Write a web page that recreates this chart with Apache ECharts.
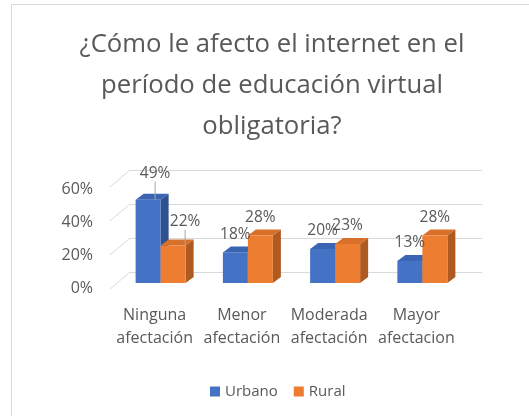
<!DOCTYPE html>
<html><head><meta charset="utf-8">
<script src="https://cdn.jsdelivr.net/npm/echarts@6/dist/echarts.min.js"></script>
<style>html,body{margin:0;padding:0;background:#fff}#c{width:529px;height:416px}</style>
</head><body><div id="c"></div>
<script>
const titleText = '¿Cómo le afecto el internet en el\nperíodo de educación virtual\nobligatoria?';
const categories = ['Ninguna\nafectación', 'Menor\nafectación', 'Moderada\nafectación', 'Mayor\nafectacion'];
const seriesNames = ['Urbano', 'Rural'];
const urbano = [49, 18, 20, 13];
const rural = [22, 28, 23, 28];
const yTicks = [0, 20, 40, 60];

const FONT = '"Open Sans", sans-serif';
const TXT = '#595959';
const GRIDC = '#d9d9d9';
const DX = 8, DY = -6;          // bar depth
const WALL_DX = 20, WALL_DY = -17; // side wall depth
const BAR_W = 25;
const colors = {
  Urbano: { front: '#4472C4', top: '#3b65b2', side: '#2f528f' },
  Rural:  { front: '#ED7D31', top: '#d9702a', side: '#ae5a21' }
};

function faces(name, sign) {
  return function (params, api) {
    const c = api.coord([api.value(0), api.value(1)]);
    const b = api.coord([api.value(0), 0]);
    const xL = sign < 0 ? c[0] - BAR_W : c[0];
    const xR = xL + BAR_W, yT = c[1], yB = b[1];
    const col = colors[name];
    return { type: 'group', children: [
      { type: 'polygon', shape: { points: [[xL, yT], [xL + DX, yT + DY], [xR + DX, yT + DY], [xR, yT]] }, style: { fill: col.top } },
      { type: 'polygon', shape: { points: [[xR, yT], [xR + DX, yT + DY], [xR + DX, yB + DY], [xR, yB]] }, style: { fill: col.side } }
    ]};
  };
}

function labelCfg() {
  return { show: true, position: 'top', distance: 10, formatter: '{c}%', color: TXT, fontSize: 15.5, fontFamily: FONT, offset: [-2, 0] };
}

const chart = echarts.init(document.getElementById('c'), null, { renderer: 'canvas' });
chart.setOption({
  animation: false,
  backgroundColor: '#fff',
  graphic: [{ type: 'rect', shape: { x: 11.5, y: 4.5, width: 700, height: 700 }, style: { fill: 'none', stroke: GRIDC, lineWidth: 1 }, z: -10 }],
  title: {
    text: titleText, left: 272, top: 24, textAlign: 'center', padding: 0,
    textStyle: { fontFamily: FONT, fontSize: 25.7, fontWeight: 'normal', color: TXT, lineHeight: 41 }
  },
  legend: {
    data: seriesNames, left: 205, top: 379, itemWidth: 10, itemHeight: 10, itemGap: 16, icon: 'rect',
    textStyle: { fontFamily: FONT, fontSize: 15, color: TXT }
  },
  grid: [
    { left: 111, right: 69, top: 189, bottom: 128 },   // front plane (labels)
    { left: 117, right: 63, top: 181, bottom: 133 },   // bar plane
    { left: 130, right: 47, top: 170, bottom: 144 }    // back wall
  ],
  xAxis: [
    { type: 'category', gridIndex: 0, data: categories, axisLine: { show: false }, axisTick: { show: false },
      axisLabel: { interval: 0, margin: 16, lineHeight: 23, fontSize: 16, fontFamily: FONT, color: TXT } },
    { type: 'category', gridIndex: 1, data: categories, show: false },
    { type: 'category', gridIndex: 2, data: categories, show: false }
  ],
  yAxis: [
    { type: 'value', gridIndex: 0, min: 0, max: 60, interval: 20, splitLine: { show: false }, axisLine: { show: false }, axisTick: { show: false },
      axisLabel: { formatter: '{value}%', margin: 18, fontSize: 16, fontFamily: FONT, color: TXT } },
    { type: 'value', gridIndex: 1, min: 0, max: 60, interval: 20, show: false, splitLine: { show: false } },
    { type: 'value', gridIndex: 2, min: 0, max: 60, interval: 20, axisLabel: { show: false }, axisLine: { show: false }, axisTick: { show: false },
      splitLine: { show: true, lineStyle: { color: GRIDC, width: 1 } } }
  ],
  series: [
    { type: 'custom', name: 'wall', xAxisIndex: 2, yAxisIndex: 2, z: 0, silent: true,
      data: yTicks.map(v => [0, v]),
      renderItem: function (params, api) {
        const p = api.coord([0, api.value(1)]);
        const x1 = params.coordSys.x;
        return { type: 'line', shape: { x1: x1 - WALL_DX, y1: p[1] - WALL_DY, x2: x1, y2: p[1] }, style: { stroke: GRIDC, lineWidth: 1 } };
      } },
    { type: 'custom', name: 'u3d', xAxisIndex: 1, yAxisIndex: 1, z: 1, silent: true,
      data: urbano.map((v, i) => [i, v]), renderItem: faces('Urbano', -1) },
    { type: 'custom', name: 'r3d', xAxisIndex: 1, yAxisIndex: 1, z: 1, silent: true,
      data: rural.map((v, i) => [i, v]), renderItem: faces('Rural', 1) },
    { type: 'bar', name: 'Urbano', xAxisIndex: 1, yAxisIndex: 1, z: 2, barWidth: BAR_W, barGap: '0%',
      itemStyle: { color: colors.Urbano.front },
      data: urbano.map((v, i) => i === 0 ? { value: v, labelLine: { show: true } } : v),
      label: labelCfg(),
      labelLine: { show: false, lineStyle: { color: '#a6a6a6', width: 1 } },
      labelLayout: function (p) { return p.dataIndex === 0 ? { dx: 7, dy: -8 } : {}; } },
    { type: 'bar', name: 'Rural', xAxisIndex: 1, yAxisIndex: 1, z: 2, barWidth: BAR_W, barGap: '0%',
      itemStyle: { color: colors.Rural.front },
      data: rural.map((v, i) => i === 0 ? { value: v, labelLine: { show: true } } : v),
      label: labelCfg(),
      labelLine: { show: false, lineStyle: { color: '#a6a6a6', width: 1 } },
      labelLayout: function (p) { return p.dataIndex === 0 ? { dx: 12, dy: -6 } : {}; } }
  ]
});
</script></body></html>
